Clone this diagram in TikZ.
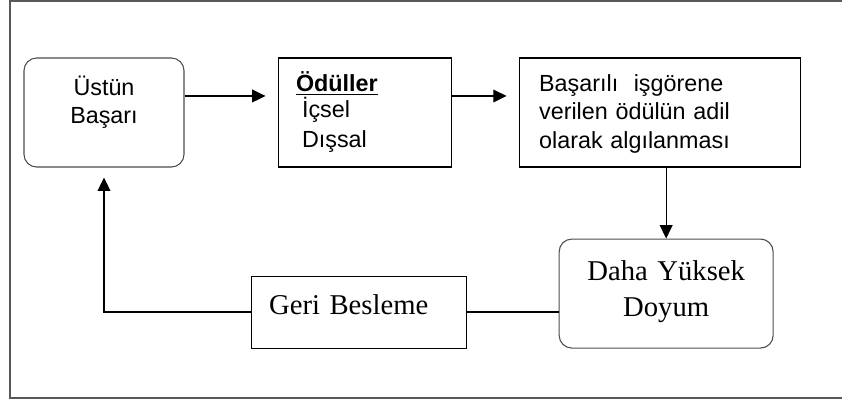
\documentclass[tikz,border=0pt]{standalone}
\usepackage{fontspec}
\setmainfont{Liberation Serif}
\setsansfont{Liberation Sans}
\usetikzlibrary{arrows.meta, positioning}
\tikzset{%
>={Triangle[width=9.5pt,length=10pt]},
% Styles of the boxes and their texts:
basebox/.style = {draw, line width=0.8pt, minimum height=81.75pt, inner sep=0pt},
roundbox/.style = {basebox, rounded corners=9.5pt, draw=black!70},
plainbox/.style = {basebox, rectangle},
sanstext/.style = {font=\sffamily\fontsize{17.5pt}{21pt}\selectfont},
seriftext/.style = {font=\rmfamily\fontsize{21.5pt}{27pt}\selectfont},
frameline/.style = {line width=1.5pt, draw=black!65},
}

\begin{document}
\begin{tikzpicture}[
            x=0.75pt, y=-0.75pt,
            line width=1pt
        ]
        \useasboundingbox (0,0) rectangle (842,401);
        \draw [frameline] (850,1) -- (10,1) -- (10,398) -- (850,398);

        % Specification of nodes (position, etc.)
        \node (ustun) [roundbox, sanstext, minimum width=120pt, text width=100pt, align=center,
            text height=12pt, text depth=36.8pt] at (104,112.5) {Üstün\\Başarı};
        \node (oduller) [plainbox, sanstext, minimum width=129.75pt, text width=102.75pt, align=left,
            text height=12pt, text depth=42.8pt, right=69.75pt of ustun]
            {\underline{\textbf{Ödüller}}\\[-1.5pt]\hspace*{4.5pt}İçsel\\[1.5pt]\hspace*{4.5pt}Dışsal};
        \node (basarili) [plainbox, sanstext, minimum width=210.75pt, text width=180.75pt, align=left,
            text height=12pt, text depth=44.2pt, right=50.25pt of oduller]
            {Başarılı\ \ işgörene\\verilen ödülün adil\\[1pt]olarak algılanması};
        \node (daha) [roundbox, seriftext, minimum width=160.5pt, text width=140pt, align=center,
            text height=12pt, text depth=32.2pt, below=53.25pt of basarili, xshift=4.9pt]
            {Daha Yüksek\\Doyum};
        \node (geri) [plainbox, seriftext, minimum width=161.25pt, minimum height=54pt, text width=134.25pt,
            align=left, text height=15pt, text depth=12pt, left=69pt of daha.south west, anchor=south east]
            {Geri Besleme};

        \draw [->, shorten >=9pt] ([yshift=12.4pt]ustun.east) -- ([yshift=12.4pt]oduller.west);
        \draw [->, shorten >=9pt] ([yshift=12.4pt]oduller.east) -- ([yshift=12.4pt]basarili.west);
        \draw [->] (basarili.south -| daha.north) -- (daha.north);
        \draw (daha.west |- geri.east) -- (geri.east);
        \draw [->, shorten >=7.5pt] (geri.west) -| (ustun.south);
    \end{tikzpicture}
\end{document}
